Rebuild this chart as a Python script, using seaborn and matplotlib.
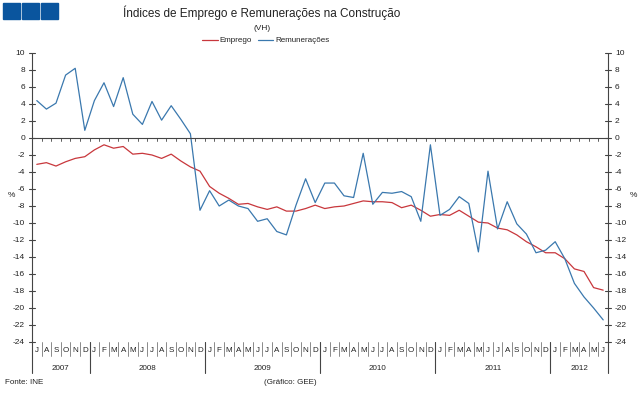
import numpy as np
import pandas as pd
import matplotlib
matplotlib.use("Agg")
import matplotlib.pyplot as plt
import matplotlib.transforms as mtransforms
from matplotlib.patches import Rectangle
import seaborn as sns

# monthly data, Jul 2007 .. Jun 2012 (VH, %)
months = ["J", "A", "S", "O", "N", "D"] + ["J", "F", "M", "A", "M", "J", "J", "A", "S", "O", "N", "D"] * 4 + ["J", "F", "M", "A", "M", "J"]
years = ["2007", "2008", "2009", "2010", "2011", "2012"]
year_len = [6, 12, 12, 12, 12, 6]

emprego = [-3.1, -2.9, -3.3, -2.8, -2.4, -2.2, -1.4, -0.8, -1.2, -1.0, -1.9, -1.8,
           -2.0, -2.4, -1.9, -2.7, -3.4, -3.9, -5.7, -6.5, -7.1, -7.8, -7.7, -8.1,
           -8.4, -8.1, -8.6, -8.6, -8.3, -7.9, -8.3, -8.1, -8.0, -7.7, -7.4, -7.5,
           -7.5, -7.6, -8.2, -7.9, -8.5, -9.2, -9.0, -9.1, -8.5, -9.2, -9.9, -10.0,
           -10.6, -10.8, -11.4, -12.2, -12.8, -13.5, -13.5, -14.2, -15.4, -15.7, -17.6, -17.9]
remuneracoes = [4.4, 3.4, 4.1, 7.4, 8.2, 0.9, 4.4, 6.5, 3.7, 7.1, 2.8, 1.6,
                4.3, 2.1, 3.8, 2.2, 0.5, -8.5, -6.2, -8.0, -7.3, -8.0, -8.3, -9.8,
                -9.5, -11.0, -11.4, -7.9, -4.8, -7.6, -5.3, -5.3, -6.8, -7.0, -1.8, -7.8,
                -6.4, -6.5, -6.3, -6.9, -9.8, -0.8, -9.1, -8.4, -6.9, -7.7, -13.4, -3.9,
                -10.7, -7.5, -10.1, -11.3, -13.5, -13.2, -12.2, -14.2, -17.1, -18.7, -20.0, -21.4]

RED = "#C8373C"
BLUE = "#3A78AE"
DARK = "#444444"
TXT = "#222222"
FONT = ["Liberation Sans", "DejaVu Sans"]

sns.set_theme(style="white")
plt.rcParams["font.family"] = FONT

n = len(months)
df = pd.DataFrame({
    "x": list(range(n)) * 2,
    "valor": emprego + remuneracoes,
    "serie": ["Emprego"] * n + ["Remunerações"] * n,
})

fig = plt.figure(figsize=(6.43, 3.94), dpi=100)
ax = fig.add_axes([32 / 643, 1 - 342 / 394, 576 / 643, 289 / 394])

sns.lineplot(data=df, x="x", y="valor", hue="serie", palette=[RED, BLUE],
             linewidth=0.9, ax=ax, legend=False)

ax.set_xlim(-0.5, n - 0.5)
ax.set_ylim(-24, 10)
for s in ["top", "bottom", "left", "right"]:
    ax.spines[s].set_visible(False)
ax.set_xlabel("")
ax.set_ylabel("")
ax.set_xticks([])
ax.set_yticks([])

yt = np.arange(-24, 11, 2)
trans_x = mtransforms.blended_transform_factory(ax.transAxes, ax.transData)
trans_b = mtransforms.blended_transform_factory(ax.transData, ax.transAxes)
px = 1 / 576.0  # one pixel in axes-x fraction
py = 1 / 289.0  # one pixel in axes-y fraction

# vertical axes (extend below the plot through the month/year band)
for xa in [0, 1]:
    ax.plot([xa, xa], [1, -31 * py], color=DARK, lw=0.8, transform=ax.transAxes, clip_on=False)
    for v in yt:
        ax.plot([xa - 3 * px, xa + 3 * px], [v, v], color=DARK, lw=0.8,
                transform=trans_x, clip_on=False)
for v in yt:
    ax.text(-7 * px, v, str(v), transform=trans_x, ha="right", va="center",
            fontsize=6, color=TXT)
    ax.text(1 + 7 * px, v, str(v), transform=trans_x, ha="left", va="center",
            fontsize=6, color=TXT)
ax.text(-24 * px, -6.8, "%", transform=trans_x, ha="left", va="center", fontsize=6, color=TXT)
ax.text(1 + 22 * px, -6.8, "%", transform=trans_x, ha="left", va="center", fontsize=6, color=TXT)

# zero line with month ticks
ax.axhline(0, color=DARK, lw=0.8)
for i in range(n + 1):
    ax.plot([i - 0.5, i - 0.5], [0, -0.35], color=DARK, lw=0.6, clip_on=False)

# month band below the plot
for i, m in enumerate(months):
    ax.text(i, -8 * py, m, transform=trans_b, ha="center", va="center", fontsize=5.8, color=TXT)
    if i > 0:
        ax.plot([i - 0.5, i - 0.5], [0, -14 * py], color="#777777", lw=0.6,
                transform=trans_b, clip_on=False)
start = 0
for y, ln in zip(years, year_len):
    ax.text(start + ln / 2 - 0.5, -26 * py, y, transform=trans_b, ha="center", va="center",
            fontsize=5.8, color=TXT)
    if start > 0:
        ax.plot([start - 0.5, start - 0.5], [0, -31 * py], color=DARK, lw=0.8,
                transform=trans_b, clip_on=False)
    start += ln

# title, subtitle, legend
fig.text(262 / 643, 1 - 13 / 394, "Índices de Emprego e Remunerações na Construção",
         ha="center", va="center", fontsize=8.5, color=TXT)
fig.text(262 / 643, 1 - 28 / 394, "(VH)", ha="center", va="center", fontsize=6, color=TXT)
ly = 1 - 40 / 394
fig.lines.append(plt.Line2D([202 / 643, 218 / 643], [ly, ly], color=RED, lw=0.9, transform=fig.transFigure))
fig.text(219 / 643, ly, "Emprego", ha="left", va="center", fontsize=5.8, color=TXT)
fig.lines.append(plt.Line2D([258 / 643, 273 / 643], [ly, ly], color=BLUE, lw=0.9, transform=fig.transFigure))
fig.text(275 / 643, ly, "Remunerações", ha="left", va="center", fontsize=5.8, color=TXT)

# logo boxes
for x0 in [3, 22, 41]:
    fig.patches.append(Rectangle((x0 / 643, 1 - 19 / 394), 17 / 643, 16 / 394,
                                 transform=fig.transFigure, color="#0A559E"))

# footer
fig.text(5 / 643, 1 - 383 / 394, "Fonte: INE", ha="left", va="center", fontsize=5.8, color=TXT)
fig.text(290 / 643, 1 - 383 / 394, "(Gráfico: GEE)", ha="center", va="center", fontsize=5.8, color=TXT)

fig.savefig("out.png", dpi=100)
